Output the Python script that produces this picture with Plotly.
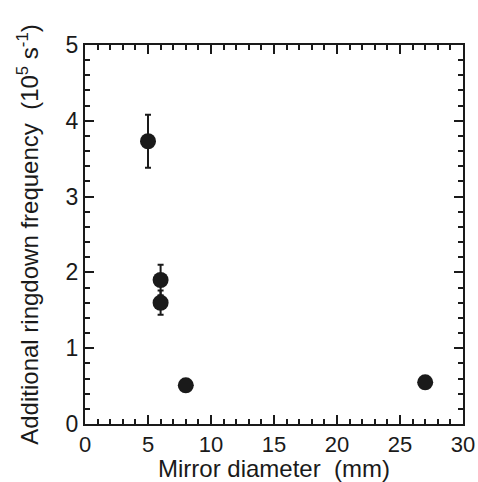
import plotly.graph_objects as go

diameter_mm = [5, 6, 6, 8, 27]
freq_1e5 = [3.73, 1.90, 1.60, 0.51, 0.55]
freq_err = [0.35, 0.20, 0.16, 0.0, 0.0]

x_ticks = [0, 5, 10, 15, 20, 25, 30]
y_ticks = [0, 1, 2, 3, 4, 5]

font = "Liberation Sans, Arial, Helvetica, sans-serif"
ink = "#1a1a1a"

fig = go.Figure()
fig.add_trace(go.Scatter(
    x=diameter_mm, y=freq_1e5, mode="markers",
    marker=dict(size=16, color=ink),
    error_y=dict(type="data", array=freq_err, visible=True,
                 color=ink, thickness=2, width=3),
    showlegend=False,
))
# invisible trace on mirrored axes so top/right ticks (incl. minor) draw
fig.add_trace(go.Scatter(x=[None], y=[None], xaxis="x2", yaxis="y2",
                         showlegend=False, hoverinfo="skip"))

tick_common = dict(
    ticks="inside", ticklen=9, tickwidth=2, tickcolor=ink,
    showgrid=False, zeroline=False, automargin=False,
)

fig.update_layout(
    width=478, height=482,
    margin=dict(l=85, r=15, t=45, b=58),
    plot_bgcolor="white", paper_bgcolor="white",
    xaxis=dict(
        range=[0, 30], tickvals=x_ticks,
        showline=True, linecolor=ink, linewidth=2, mirror=True,
        minor=dict(dtick=1, ticks="inside", ticklen=5, tickwidth=2, tickcolor=ink, showgrid=False),
        tickfont=dict(family=font, size=22, color=ink),
        title=dict(text="Mirror diameter  (mm)", font=dict(family=font, size=24, color=ink), standoff=8),
        **tick_common,
    ),
    yaxis=dict(
        range=[0, 5], tickvals=y_ticks,
        showline=True, linecolor=ink, linewidth=2, mirror=True,
        minor=dict(dtick=0.2, ticks="inside", ticklen=5, tickwidth=2, tickcolor=ink, showgrid=False),
        tickfont=dict(family=font, size=23, color=ink),
        title=dict(text="Additional ringdown frequency  (10<sup>5</sup> s<sup>-1</sup>)",
                   font=dict(family=font, size=24, color=ink), standoff=20),
        **tick_common,
    ),
    xaxis2=dict(
        range=[0, 30], tickvals=x_ticks, overlaying="x", side="top", anchor="y",
        showticklabels=False,
        minor=dict(dtick=1, ticks="inside", ticklen=5, tickwidth=2, tickcolor=ink, showgrid=False),
        **tick_common,
    ),
    yaxis2=dict(
        range=[0, 5], tickvals=y_ticks, overlaying="y", side="right", anchor="x",
        showticklabels=False,
        minor=dict(dtick=0.2, ticks="inside", ticklen=5, tickwidth=2, tickcolor=ink, showgrid=False),
        **tick_common,
    ),
)

fig.write_html("out.html")
